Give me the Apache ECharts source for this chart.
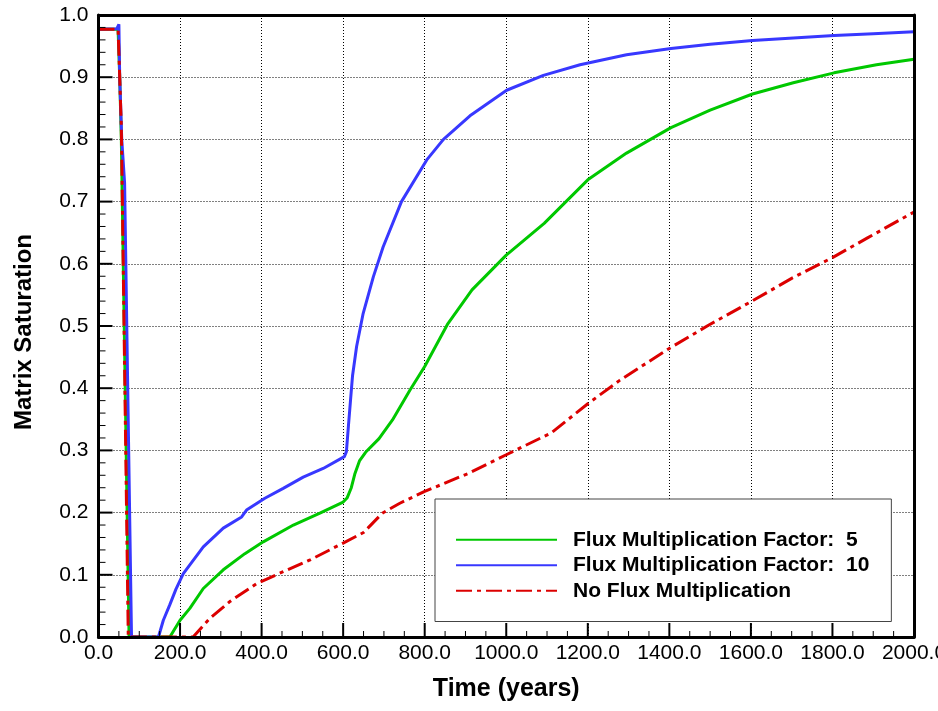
<!DOCTYPE html>
<html><head><meta charset="utf-8">
<script src="https://cdn.jsdelivr.net/npm/echarts@6/dist/echarts.min.js"></script>
<style>html,body{margin:0;padding:0;background:#fff}#c{width:938px;height:711px}</style>
</head><body><div id="c"></div>
<script>
const seriesNames = ['Flux Multiplication Factor:  5', 'Flux Multiplication Factor:  10', 'No Flux Multiplication'];
const seriesColors = ['#00c800', '#3838ff', '#dc0000'];

const timeF5 = [0, 48, 52, 56, 75, 175, 200, 224, 257, 306, 359, 404, 478, 543, 600, 610, 620, 629, 640, 655, 688, 721, 764, 800, 857, 916, 1000, 1093, 1200, 1295, 1404, 1500, 1604, 1704, 1804, 1908, 2000];
const satF5 = [0.977, 0.977, 0.9, 0.8, 0, 0, 0.027, 0.046, 0.078, 0.108, 0.134, 0.153, 0.18, 0.199, 0.217, 0.224, 0.24, 0.263, 0.283, 0.297, 0.319, 0.349, 0.397, 0.435, 0.504, 0.558, 0.614, 0.665, 0.735, 0.778, 0.819, 0.847, 0.873, 0.891, 0.907, 0.92, 0.929];

const timeF10 = [0, 45, 50, 52, 57, 64, 81, 147, 159, 175, 190, 208, 224, 257, 306, 351, 363, 408, 453, 502, 551, 603, 608, 613, 618, 623, 633, 649, 674, 698, 743, 805, 846, 911, 1001, 1091, 1181, 1295, 1404, 1500, 1604, 1704, 1804, 1900, 2000];
const satF10 = [0.977, 0.978, 0.985, 0.9, 0.8, 0.73, 0, 0, 0.027, 0.052, 0.077, 0.102, 0.116, 0.145, 0.175, 0.193, 0.204, 0.223, 0.239, 0.257, 0.271, 0.29, 0.298, 0.34, 0.38, 0.42, 0.467, 0.52, 0.579, 0.627, 0.7, 0.767, 0.8, 0.838, 0.879, 0.903, 0.92, 0.936, 0.946, 0.953, 0.959, 0.963, 0.967, 0.97, 0.973];

const timeNone = [0, 48, 52, 56, 73, 232, 273, 322, 388, 453, 519, 600, 650, 696, 739, 800, 907, 1000, 1110, 1200, 1279, 1400, 1498, 1600, 1701, 1800, 1887, 1988, 2000];
const satNone = [0.977, 0.977, 0.9, 0.82, 0, 0, 0.03, 0.057, 0.086, 0.105, 0.124, 0.151, 0.168, 0.199, 0.215, 0.234, 0.263, 0.293, 0.328, 0.375, 0.413, 0.464, 0.502, 0.539, 0.577, 0.61, 0.642, 0.679, 0.683];

// axis tick layout (major step, minor subdivisions)
const xTickStep = 200, xMinorSplit = 4, xMax = 2000;
const yTickStep = 0.1, yMinorSplit = 5, yMax = 1;

const FONT = '"Liberation Sans", Arial, Helvetica, sans-serif';
const G = { left: 98.5, right: 24, top: 15, bottom: 74, outerBoundsMode: 'none', containLabel: false };
const pair = (t, s) => t.map((v, i) => [v, s[i]]);

function tickList(step, split, max) {
  const out = [];
  const n = Math.round(max / step) * split;
  for (let i = 0; i <= n; i++) out.push([+(i * step / split).toFixed(6), i % split === 0]);
  return out;
}

const chart = echarts.init(document.getElementById('c'), null, { renderer: 'canvas' });

const X_RANGE = { type: 'value', min: 0, max: xMax, interval: xTickStep };
const Y_RANGE = { type: 'value', min: 0, max: yMax, interval: yTickStep };
const OFF = { axisLine: { show: false }, axisTick: { show: false }, axisLabel: { show: false }, splitLine: { show: false }, minorTick: { show: false } };

function frameLine() { return { show: true, onZero: false, lineStyle: { color: '#000', width: 3 } }; }
function gridLines() { return { show: true, lineStyle: { color: '#000', width: 1, type: [1, 2] } }; }
function labels() { return { show: true, fontSize: 21, color: '#000', fontFamily: FONT, formatter: v => v.toFixed(1) }; }
function ax(base, extra) { return Object.assign({}, base, OFF, extra); }

const option = {
  animation: false,
  backgroundColor: '#fff',
  grid: [Object.assign({}, G), Object.assign({}, G)],
  xAxis: [
    ax(X_RANGE, { gridIndex: 0, z: 0, splitLine: gridLines() }),
    ax(X_RANGE, { gridIndex: 1, position: 'bottom', z: 5,
      axisLine: frameLine(),
      axisLabel: Object.assign(labels(), { margin: 6 }),
      name: 'Time (years)', nameLocation: 'middle', nameGap: 40,
      nameTextStyle: { fontSize: 25, fontWeight: 'bold', color: '#000', fontFamily: FONT } }),
    ax(X_RANGE, { gridIndex: 1, position: 'top', z: 5, axisLine: frameLine() })
  ],
  yAxis: [
    ax(Y_RANGE, { gridIndex: 0, z: 0, splitLine: gridLines() }),
    ax(Y_RANGE, { gridIndex: 1, position: 'left', z: 5,
      axisLine: frameLine(),
      axisLabel: Object.assign(labels(), { margin: 10 }),
      name: 'Matrix Saturation', nameLocation: 'middle', nameGap: 62,
      nameTextStyle: { fontSize: 24, fontWeight: 'bold', color: '#000', fontFamily: FONT, padding: [0, 12, 0, 0] } }),
    ax(Y_RANGE, { gridIndex: 1, position: 'right', z: 5, axisLine: frameLine() })
  ],
  legend: {
    orient: 'vertical', left: 435, top: 499,
    padding: [28, 22, 18, 20],
    itemWidth: 101, itemHeight: 14, itemGap: 0,
    backgroundColor: '#fff', borderColor: '#444', borderWidth: 1,
    itemStyle: { opacity: 0 },
    textStyle: { fontSize: 21, fontWeight: 'bold', color: '#000', fontFamily: FONT, lineHeight: 25.5, padding: [0, 0, 0, 11] },
    data: seriesNames,
    z: 10
  },
  series: [
    { name: seriesNames[0], type: 'line', xAxisIndex: 1, yAxisIndex: 1, data: pair(timeF5, satF5), z: 2,
      symbol: 'none', showSymbol: false, itemStyle: { color: seriesColors[0] },
      lineStyle: { color: seriesColors[0], width: 3 } },
    { name: seriesNames[1], type: 'line', xAxisIndex: 1, yAxisIndex: 1, data: pair(timeF10, satF10), z: 2,
      symbol: 'none', showSymbol: false, itemStyle: { color: seriesColors[1] },
      lineStyle: { color: seriesColors[1], width: 3 } },
    { name: seriesNames[2], type: 'line', xAxisIndex: 1, yAxisIndex: 1, data: pair(timeNone, satNone), z: 2,
      symbol: 'none', showSymbol: false, itemStyle: { color: seriesColors[2] },
      lineStyle: { color: seriesColors[2], width: 3, type: [16, 5, 4, 5] } }
  ]
};
chart.setOption(option);

// inward axis ticks, positioned through the axes' own scales
const tickEls = [];
const y0 = chart.convertToPixel({ yAxisIndex: 1 }, 0);
const x0 = chart.convertToPixel({ xAxisIndex: 1 }, 0);
tickList(xTickStep, xMinorSplit, xMax).forEach(([v, major]) => {
  const px = chart.convertToPixel({ xAxisIndex: 1 }, v);
  const len = major ? 14 : 6;
  tickEls.push({ type: 'line', silent: true, z: 100,
    shape: { x1: px, y1: y0, x2: px, y2: y0 - len },
    style: { stroke: '#000', lineWidth: major ? 2 : 1 } });
});
tickList(yTickStep, yMinorSplit, yMax).forEach(([v, major]) => {
  const py = chart.convertToPixel({ yAxisIndex: 1 }, v);
  const len = major ? 14 : 7;
  tickEls.push({ type: 'line', silent: true, z: 100,
    shape: { x1: x0, y1: py, x2: x0 + len, y2: py },
    style: { stroke: '#000', lineWidth: major ? 2 : 1 } });
});
chart.setOption({ graphic: { elements: tickEls } });
</script>
</body></html>
